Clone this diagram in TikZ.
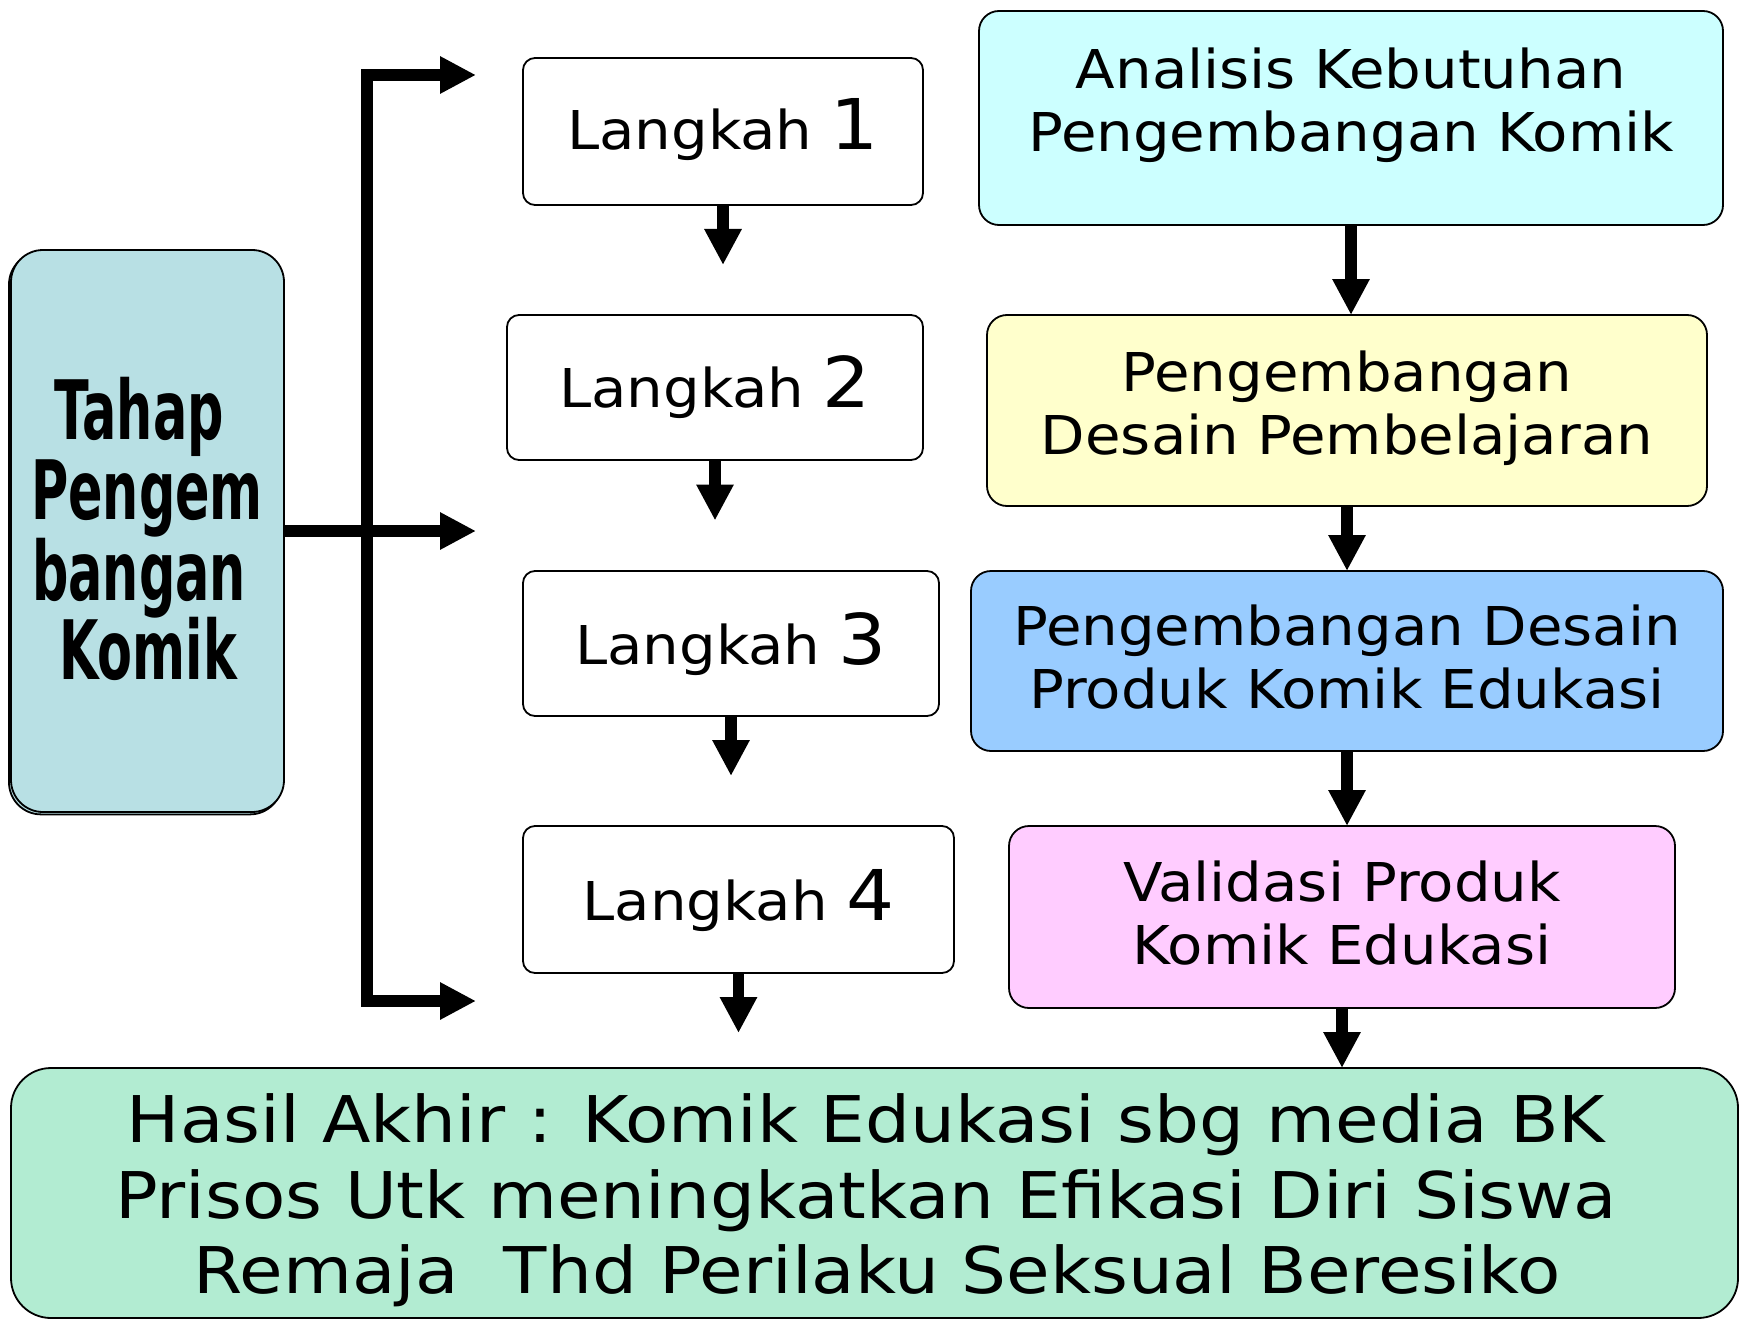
\documentclass[tikz,border=0pt]{standalone}
\usepackage{fontspec}
\setmainfont{DejaVu Sans}
\newfontfamily\mainf[FakeStretch=1.08]{DejaVu Sans}
\newfontfamily\botf[FakeStretch=1.10]{DejaVu Sans}
\newfontfamily\leftf[FakeStretch=0.62]{DejaVu Sans Bold}
\usetikzlibrary{arrows.meta,shadows}
\definecolor{leftfill}{RGB}{184,224,228}
\definecolor{anafill}{RGB}{204,255,255}
\definecolor{desfill}{RGB}{255,255,204}
\definecolor{profill}{RGB}{153,204,255}
\definecolor{valfill}{RGB}{255,204,255}
\definecolor{hasfill}{RGB}{178,236,210}
\tikzset{
  bighead/.tip={Triangle[length=18pt,width=17.5pt]},
  rbox/.style={draw=black, line width=0.9pt, inner sep=0pt, outer sep=0pt},
  lbox/.style={rbox, fill=white, rounded corners=6pt},
  cbox/.style={rbox, rounded corners=10pt},
  arr/.style={line width=5.75pt, -bighead},
  txt/.style={anchor=base, inner sep=0pt, font=\mainf\fontsize{26.75}{32}\selectfont},
  btxt/.style={anchor=base, inner sep=0pt, font=\botf\fontsize{32.2}{38}\selectfont},
  ltxt/.style={anchor=base, inner sep=0pt, font=\leftf\fontsize{41}{46}\selectfont},
}
\newcommand{\bignum}[1]{{\fontsize{35}{40}\selectfont #1}}
\begin{document}
\begin{tikzpicture}[x=0.5pt, y=-0.5pt]
\useasboundingbox (0,0) rectangle (1744,1321);

% left box
\node[rbox, fill=leftfill, rounded corners=16pt, minimum width=136.5pt, minimum height=281pt,
      copy shadow={shadow xshift=-1pt, shadow yshift=-1.2pt}] (tahap) at (147.5,531) {};
\node[ltxt] (t1) at (139,439) {Tahap};
\node[ltxt] (t2) at (147,519) {Pengem};
\node[ltxt] (t3) at (139,600) {bangan};
\node[ltxt] (t4) at (148,679) {Komik};

% Langkah boxes
\node[lbox, minimum width=200pt, minimum height=73.5pt] (L1) at (723,131.5) {};
\node[lbox, minimum width=208pt, minimum height=72.5pt] (L2) at (715,387.5) {};
\node[lbox, minimum width=208pt, minimum height=72.5pt] (L3) at (731,643.5) {};
\node[lbox, minimum width=215.5pt, minimum height=73.5pt] (L4) at (738.5,899.5) {};
\node[txt] (L1t) at (723,150) {Langkah \bignum{1}};
\node[txt] (L2t) at (715,407) {Langkah \bignum{2}};
\node[txt] (L3t) at (731,664) {Langkah \bignum{3}};
\node[txt] (L4t) at (738.5,920) {Langkah \bignum{4}};

% right boxes
\node[cbox, fill=anafill, minimum width=372pt, minimum height=107pt] (ana) at (1351,118) {};
\node[txt] (ana1) at (1351,89) {Analisis Kebutuhan};
\node[txt] (ana2) at (1351,152) {Pengembangan Komik};

\node[cbox, fill=desfill, minimum width=360pt, minimum height=95.5pt] (des) at (1347,410.5) {};
\node[txt] (des1) at (1347,391.5) {Pengembangan};
\node[txt] (des2) at (1347,454) {Desain Pembelajaran};

\node[cbox, fill=profill, minimum width=376pt, minimum height=90pt] (pro) at (1347,661) {};
\node[txt] (pro1) at (1347,645) {Pengembangan Desain};
\node[txt] (pro2) at (1347,708.5) {Produk Komik Edukasi};

\node[cbox, fill=valfill, minimum width=333pt, minimum height=91pt] (val) at (1342,917) {};
\node[txt] (val1) at (1342,901) {Validasi Produk};
\node[txt] (val2) at (1342,964) {Komik Edukasi};

% bottom box
\node[rbox, fill=hasfill, rounded corners=20pt, minimum width=863.5pt, minimum height=125pt] (has) at (874.5,1193) {};
\node[btxt] (has1) at (866,1142) {Hasil Akhir : Komik Edukasi sbg media BK};
\node[btxt] (has2) at (866,1218) {Prisos Utk meningkatkan Efikasi Diri Siswa};
\node[btxt] (has3) at (877,1293) {Remaja\ \ Thd Perilaku Seksual Beresiko};

% bracket
\coordinate (bt) at (476,75);
\coordinate (bc1) at (367,75);
\coordinate (bc2) at (367,1001);
\coordinate (bb) at (476,1001);
\coordinate (bm) at (476,531);
\draw[line width=5.75pt, line join=miter, bighead-bighead] (bt) -- (bc1) -- (bc2) -- (bb);
\draw[arr] (tahap.east) -- (bm);

% Langkah arrows
\coordinate (e1) at (723,265);
\coordinate (e2) at (715,520.5);
\coordinate (e3) at (731,776);
\coordinate (e4) at (738.5,1033);
\draw[arr] (L1.south) -- (e1);
\draw[arr] (L2.south) -- (e2);
\draw[arr] (L3.south) -- (e3);
\draw[arr] (L4.south) -- (e4);

% right arrows
\draw[arr] (ana.south) -- (ana.south |- des.north);
\draw[arr] (des.south) -- (des.south |- pro.north);
\draw[arr] (pro.south) -- (pro.south |- val.north);
\draw[arr] (val.south) -- (val.south |- has.north);
\end{tikzpicture}
\end{document}
